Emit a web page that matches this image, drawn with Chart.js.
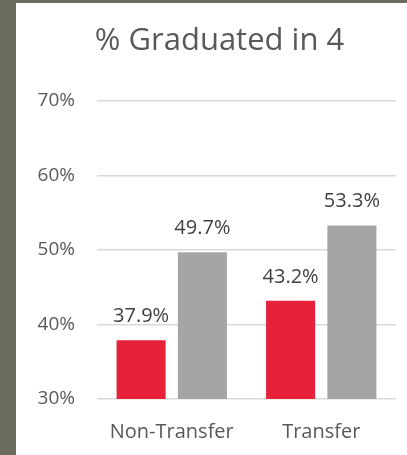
<!DOCTYPE html>
<html>
<head>
<meta charset="utf-8">
<script src="https://cdn.jsdelivr.net/npm/chart.js@4"></script>
<style>
  html, body { margin: 0; padding: 0; }
  body { width: 407px; height: 455px; background: #6b6b5d; position: relative; overflow: hidden; }
  #wrap { position: absolute; left: 16px; top: 3px; width: 407px; height: 452px; background: #fff; }
</style>
</head>
<body>
<div id="wrap"><canvas id="chart"></canvas></div>
<script>
const categories = ["Non-Transfer", "Transfer"];
const seriesA = [37.9, 43.2];
const seriesB = [49.7, 53.3];
const yTicks = [30, 40, 50, 60, 70];

const FONT = "'Open Sans', sans-serif";

// labels above each bar, positioned from the bar elements
const barLabels = {
  id: "barLabels",
  afterDatasetsDraw(chart) {
    const ctx = chart.ctx;
    ctx.save();
    ctx.font = "20px " + FONT;
    ctx.fillStyle = "#404040";
    ctx.textAlign = "center";
    ctx.textBaseline = "alphabetic";
    chart.data.datasets.forEach((ds, di) => {
      chart.getDatasetMeta(di).data.forEach((bar, i) => {
        ctx.fillText(ds.data[i].toFixed(1) + "%", bar.x, bar.y - 18);
      });
    });
    ctx.restore();
  },
};

new Chart(document.getElementById("chart"), {
  type: "bar",
  data: {
    labels: categories,
    datasets: [
      { data: seriesA, backgroundColor: "#e8213a", barPercentage: 0.8, categoryPercentage: 0.82 },
      { data: seriesB, backgroundColor: "#a5a5a5", barPercentage: 0.8, categoryPercentage: 0.82 },
    ],
  },
  options: {
    responsive: true,
    maintainAspectRatio: false,
    animation: false,
    layout: { padding: 0 },
    plugins: {
      legend: { display: false },
      tooltip: { enabled: false },
      title: {
        display: true,
        text: "% Graduated in 4",
        color: "#595959",
        font: { family: FONT, size: 31, weight: "normal" },
        padding: { top: 20, bottom: 40.8 },
      },
    },
    scales: {
      x: {
        afterFit: (s) => { s.height = 56; },
        grid: { display: false, drawTicks: false },
        border: { display: false },
        ticks: { color: "#595959", font: { family: FONT, size: 20 }, padding: 21 },
      },
      y: {
        min: 30,
        max: 70,
        afterBuildTicks: (s) => { s.ticks = yTicks.map((v) => ({ value: v })); },
        afterFit: (s) => { s.width = 81; },
        grid: { color: "#d9d9d9", lineWidth: 1.5, drawTicks: false },
        border: { display: false },
        ticks: { color: "#595959", font: { family: FONT, size: 19 }, padding: 22, callback: (v) => v + "%" },
      },
      // empty right-hand axis, only keeps the gap after the plot
      yR: {
        position: "right",
        afterFit: (s) => { s.width = 27; },
        grid: { display: false },
        border: { display: false },
        ticks: { display: false },
      },
    },
  },
  plugins: [barLabels],
});
</script>
</body>
</html>
